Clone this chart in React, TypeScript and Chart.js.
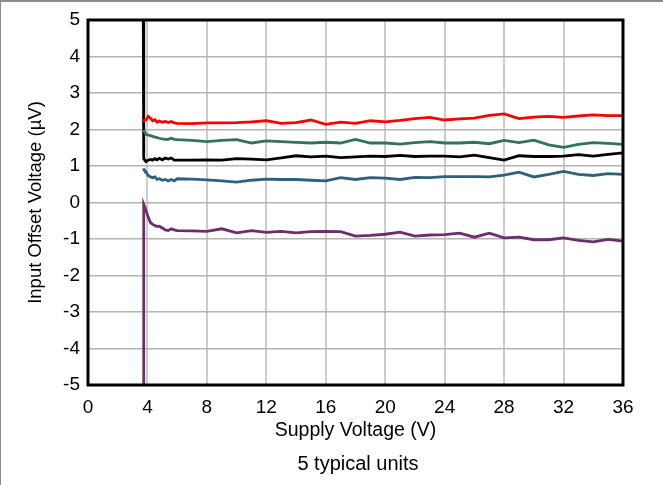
import React, { useEffect, useRef } from "react";
import { Chart, registerables } from "chart.js";

Chart.register(...registerables);

// Supply voltage sample points (V): fine steps near start-up, then 1 V steps
const supplyVoltage = [
  3.72, 3.75, 3.9, 4.05, 4.2, 4.35, 4.5, 4.65, 4.8, 5.0, 5.2, 5.4, 5.6, 5.8, 6,
  7, 8, 9, 10, 11, 12, 13, 14, 15, 16, 17, 18, 19, 20, 21, 22, 23, 24, 25, 26,
  27, 28, 29, 30, 31, 32, 33, 34, 35, 36,
];

// Input offset voltage (µV) for each of the five units
const unitRed = [
  2.23, 2.25, 2.26, 2.36, 2.31, 2.24, 2.27, 2.2, 2.23, 2.2, 2.22, 2.19, 2.22, 2.18, 2.17,
  2.16, 2.18, 2.18, 2.19, 2.21, 2.24, 2.17, 2.19, 2.26, 2.14, 2.2, 2.17, 2.24, 2.21, 2.25,
  2.3, 2.33, 2.26, 2.29, 2.31, 2.39, 2.43, 2.3, 2.34, 2.36, 2.33, 2.37, 2.4, 2.38, 2.38,
];
const unitGreen = [
  1.99, 1.97, 1.87, 1.85, 1.83, 1.81, 1.79, 1.78, 1.76, 1.74, 1.73, 1.73, 1.76, 1.73, 1.72,
  1.7, 1.67, 1.7, 1.72, 1.63, 1.69, 1.67, 1.65, 1.63, 1.65, 1.63, 1.73, 1.63, 1.63, 1.6,
  1.64, 1.67, 1.63, 1.63, 1.65, 1.61, 1.7, 1.64, 1.71, 1.58, 1.51, 1.59, 1.64, 1.62, 1.59,
];
const unitBlack = [
  5, 1.2, 1.12, 1.16, 1.18, 1.16, 1.2, 1.17, 1.21, 1.17, 1.22, 1.19, 1.22, 1.16, 1.16,
  1.16, 1.17, 1.16, 1.2, 1.19, 1.17, 1.22, 1.28, 1.25, 1.27, 1.23, 1.25, 1.27, 1.26, 1.29,
  1.26, 1.27, 1.27, 1.25, 1.3, 1.23, 1.16, 1.28, 1.26, 1.26, 1.27, 1.31, 1.27, 1.32, 1.36,
];
const unitBlue = [
  0.93, 0.91, 0.84, 0.74, 0.7, 0.68, 0.7, 0.63, 0.65, 0.61, 0.63, 0.59, 0.63, 0.59, 0.65,
  0.64, 0.62, 0.59, 0.56, 0.61, 0.64, 0.63, 0.63, 0.61, 0.59, 0.68, 0.63, 0.68, 0.67, 0.63,
  0.69, 0.68, 0.71, 0.71, 0.71, 0.7, 0.75, 0.83, 0.7, 0.77, 0.85, 0.77, 0.74, 0.79, 0.77,
];
const unitPurple = [
  -5, -0.05, -0.21, -0.4, -0.55, -0.6, -0.63, -0.66, -0.65, -0.7, -0.75, -0.77, -0.72, -0.75, -0.77,
  -0.78, -0.79, -0.72, -0.83, -0.77, -0.82, -0.79, -0.83, -0.8, -0.79, -0.8, -0.92, -0.9, -0.87, -0.81,
  -0.92, -0.89, -0.88, -0.84, -0.95, -0.84, -0.97, -0.95, -1.02, -1.02, -0.97, -1.04, -1.08, -1.01, -1.06,
];

const seriesValues = [unitRed, unitGreen, unitBlack, unitBlue, unitPurple];
const seriesColors = ["#ff0000", "#2f7556", "#000000", "#2e627c", "#6f2c6c"];

const xTitle = "Supply Voltage (V)";
const yTitle = "Input Offset Voltage (\u00b5V)";
const noteText = "5 typical units";

const FONT = "Arial, 'Liberation Sans', sans-serif";

const framePlugin = {
  id: "frame",
  beforeDraw(chart: any) {
    const { ctx, width, height } = chart;
    ctx.save();
    ctx.fillStyle = "#ffffff";
    ctx.fillRect(0, 0, width, height);
    ctx.fillStyle = "#8a8a8a";
    ctx.fillRect(0, 0, width, 2);
    ctx.fillRect(0, 0, 1, height);
    ctx.restore();
  },
  afterDatasetsDraw(chart: any) {
    const { ctx, chartArea } = chart;
    ctx.save();
    ctx.strokeStyle = "#000000";
    ctx.lineWidth = 3;
    ctx.strokeRect(
      chartArea.left,
      chartArea.top,
      chartArea.right - chartArea.left,
      chartArea.bottom - chartArea.top
    );
    ctx.restore();
  },
  afterDraw(chart: any) {
    const { ctx } = chart;
    ctx.save();
    ctx.fillStyle = "#000000";
    ctx.font = `20px ${FONT}`;
    ctx.textAlign = "center";
    ctx.textBaseline = "middle";
    ctx.fillText(noteText, 358, 464);
    ctx.restore();
  },
};

export default function App() {
  const canvasRef = useRef<HTMLCanvasElement | null>(null);

  useEffect(() => {
    const canvas = canvasRef.current;
    if (!canvas) return;
    const chart = new Chart(canvas, {
      type: "line",
      data: {
        datasets: seriesValues.map((vals, i) => ({
          data: vals.map((v, j) => ({ x: supplyVoltage[j], y: v })),
          borderColor: seriesColors[i],
          borderWidth: 2.8,
          pointRadius: 0,
          tension: 0,
          fill: false,
        })),
      },
      options: {
        responsive: false,
        animation: false,
        events: [],
        layout: { padding: { left: 0, top: 20, right: 40, bottom: 0 } },
        plugins: {
          legend: { display: false },
          tooltip: { enabled: false },
        },
        scales: {
          x: {
            type: "linear",
            min: 0,
            max: 36,
            ticks: {
              stepSize: 4,
              color: "#000000",
              font: { family: FONT, size: 19 },
              padding: 11,
              maxRotation: 0,
              autoSkip: false,
            },
            grid: { color: "#cccccc", lineWidth: 2, drawTicks: false },
            border: { display: false },
            title: {
              display: true,
              text: xTitle,
              color: "#000000",
              font: { family: FONT, size: 19.5 },
              padding: { top: 0, bottom: 43 },
            },
            afterFit: (scale: any) => {
              scale.height = 100;
            },
          },
          y: {
            type: "linear",
            min: -5,
            max: 5,
            ticks: {
              stepSize: 1,
              color: "#000000",
              font: { family: FONT, size: 19 },
              padding: 8,
            },
            grid: { color: "#b4b4b4", lineWidth: 1.5, drawTicks: false },
            border: { display: false },
            title: {
              display: true,
              text: yTitle,
              color: "#000000",
              font: { family: FONT, size: 18.5 },
              padding: { top: 25, bottom: 0 },
            },
            afterFit: (scale: any) => {
              scale.width = 88;
            },
          },
        },
      },
      plugins: [framePlugin],
    });
    return () => chart.destroy();
  }, []);

  return (
    <div style={{ position: "fixed", left: 0, top: 0, width: 663, height: 485, background: "#ffffff" }}>
      <canvas ref={canvasRef} width={663} height={485} style={{ display: "block" }} />
    </div>
  );
}
